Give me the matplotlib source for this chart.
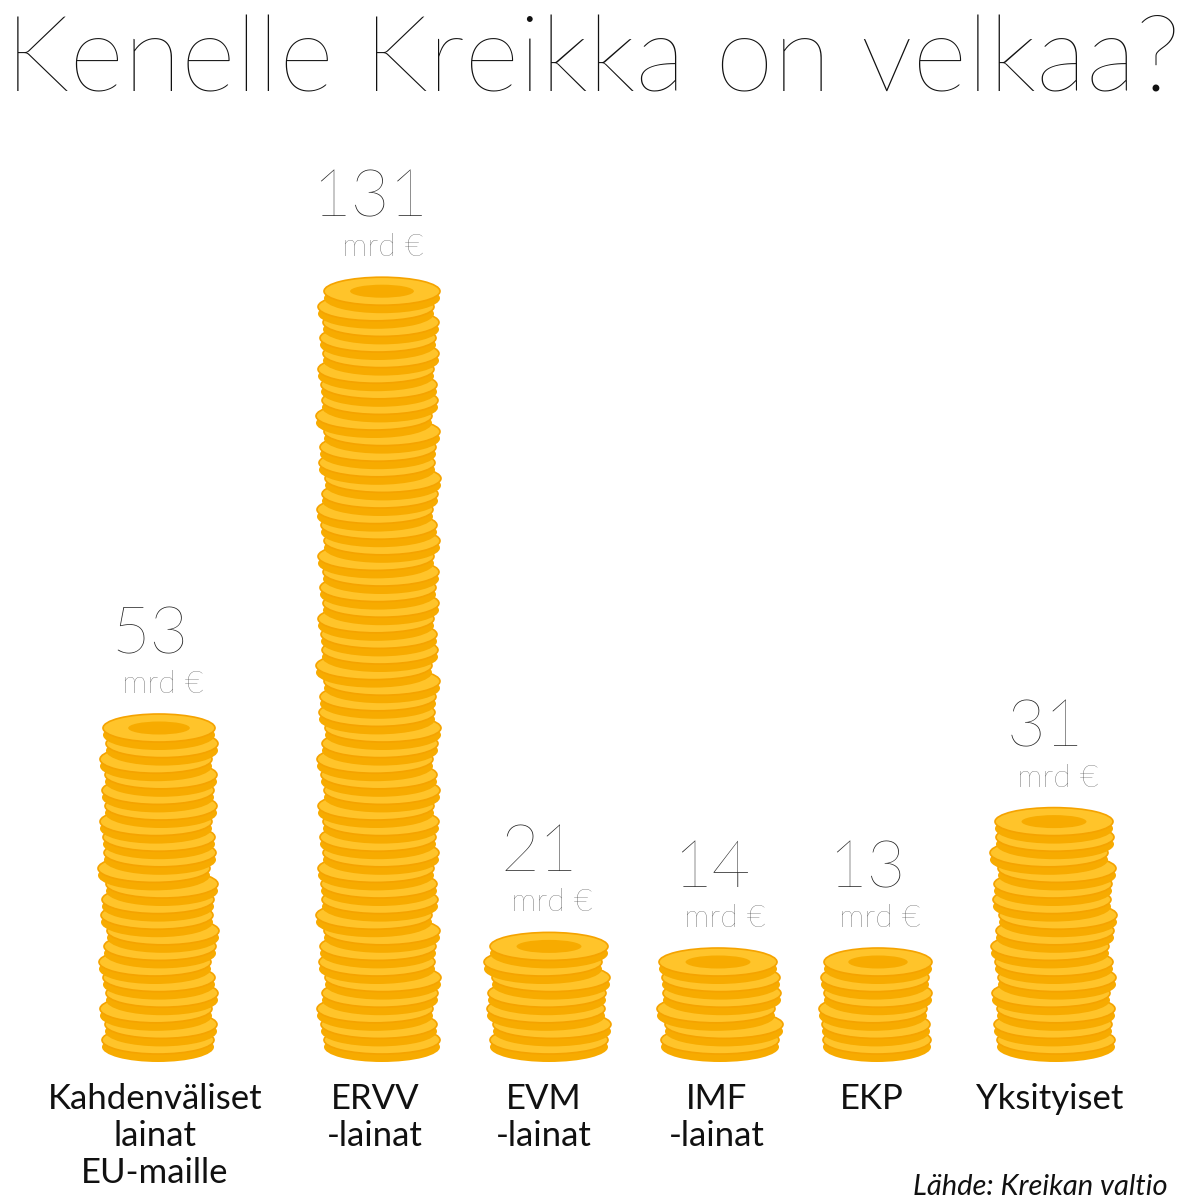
import matplotlib.pyplot as plt
from matplotlib.patches import Ellipse

categories = ["Kahdenväliset\nlainat\nEU-maille", "ERVV\n-lainat", "EVM\n-lainat",
              "IMF\n-lainat", "EKP", "Yksityiset"]
values = [53, 131, 21, 14, 13, 31]
value_labels = ["53", "131", "21", "14", "13", "31"]
# coins drawn in each stack, counted off the picture
coin_counts = [20, 48, 6, 5, 5, 14]

centers = [158, 378, 547, 720, 875, 1053]
widths = [112, 116, 118, 118, 108, 118]
jitter = [0, 3, -2, 4, 1, -3, 2, 5, -1, 0, 4, -4, 2, 1, -2, 3]

fig = plt.figure(figsize=(12, 12), dpi=100)
ax = fig.add_axes([0, 0, 1, 1])
ax.set_xlim(0, 1200)
ax.set_ylim(1200, 0)
ax.axis("off")

base = 1040
spacing = 15.6
for i, v in enumerate(values):
    n = coin_counts[i]
    cx, w = centers[i], widths[i]
    for k in range(n + 1):
        y = base - k * spacing
        dx = jitter[(k + i * 3) % len(jitter)]
        ax.add_patch(Ellipse((cx + dx, y + 7), w, 30, facecolor="#f7ab00",
                             edgecolor="none", zorder=2 + 2 * k))
        ax.add_patch(Ellipse((cx + dx, y), w, 28, facecolor="#ffc42a",
                             edgecolor="#f5a300", lw=1.2, zorder=3 + 2 * k))
    ytop = base - n * spacing
    dx = jitter[(n + i * 3) % len(jitter)]
    ax.add_patch(Ellipse((cx + dx, ytop), w * 0.55, 13, facecolor="#f7ab00",
                         edgecolor="none", zorder=5 + 2 * n))
    ax.text(cx - 8, ytop - 75, value_labels[i], fontsize=48, family="Lato",
            weight="light", ha="center", va="baseline", color="#222222")
    ax.text(cx + 5, ytop - 35, "mrd €", fontsize=23, family="Lato",
            weight="light", ha="center", va="baseline", color="#444444")
    ax.text(cx - 3, 1083, categories[i], fontsize=25, family="Lato",
            ha="center", va="top", color="#111111", linespacing=1.2)

ax.text(5, 92, "Kenelle Kreikka on velkaa?", fontsize=76, family="Lato",
        weight="light", ha="left", va="baseline", color="#111111")
ax.text(1168, 1195, "Lähde: Kreikan valtio", fontsize=21, family="Lato",
        style="italic", ha="right", va="baseline", color="#111111")

fig.savefig("out.png", dpi=100)
